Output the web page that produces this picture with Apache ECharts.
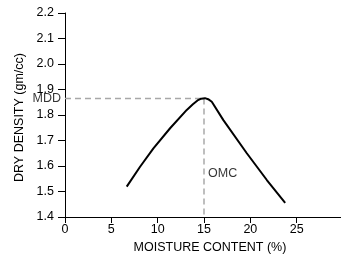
<!DOCTYPE html>
<html><head><meta charset="utf-8">
<script src="https://cdn.jsdelivr.net/npm/echarts@6/dist/echarts.min.js"></script>
<style>html,body{margin:0;padding:0;background:#fff}#c{width:341px;height:257px}</style>
</head><body><div id="c"></div>
<script>
var moisture = [6.66, 8.1, 9.54, 11.34, 13.14, 13.8, 14.3, 14.7, 15.1, 15.45, 15.84, 17.09, 19.62, 21.78, 23.76];
var density  = [1.519, 1.597, 1.669, 1.748, 1.82, 1.842, 1.857, 1.864, 1.866, 1.862, 1.852, 1.78, 1.65, 1.545, 1.455];
var mdd = 1.865;
var omc = 15;
var xTicks = [0, 5, 10, 15, 20, 25, 30];
var yTicks = [1.4, 1.5, 1.6, 1.7, 1.8, 1.9, 2.0, 2.1, 2.2];

var curve = moisture.map(function (m, i) { return [m, density[i]]; });
var chart = echarts.init(document.getElementById('c'), null, {renderer: 'canvas'});
var font = 'Liberation Sans, Arial, sans-serif';
var fs = 12.5;
var dashStyle = {color: '#a8a8a8', width: 1.5, type: [6, 4]};
chart.setOption({
  animation: false,
  grid: {left: 65, top: 13, right: -2, bottom: 40, outerBoundsMode: 'none', containLabel: false},
  xAxis: {
    type: 'value', min: xTicks[0], max: xTicks[xTicks.length - 1], interval: 5,
    name: 'MOISTURE CONTENT (%)', nameLocation: 'middle', nameGap: 20,
    nameTextStyle: {fontFamily: font, fontSize: fs, color: '#000', padding: [0, 0, 0, 12]},
    axisLine: {show: true, lineStyle: {color: '#000', width: 1}},
    axisTick: {show: true, length: 6, lineStyle: {color: '#000'}},
    axisLabel: {fontFamily: font, fontSize: fs, color: '#000', margin: 6,
      formatter: function (v) { return v === 30 ? '' : String(v); }},
    splitLine: {show: false}
  },
  yAxis: {
    type: 'value', min: yTicks[0], max: yTicks[yTicks.length - 1], interval: 0.1,
    name: 'DRY DENSITY (gm/cc)', nameLocation: 'middle', nameGap: 28, nameRotate: 90,
    nameTextStyle: {fontFamily: font, fontSize: fs, color: '#000', padding: [0, 5, 0, 0]},
    axisLine: {show: true, lineStyle: {color: '#000', width: 1}},
    axisTick: {show: true, length: 7, lineStyle: {color: '#000'}},
    axisLabel: {fontFamily: font, fontSize: fs, color: '#000', margin: 11,
      formatter: function (v) { return v.toFixed(1); }},
    splitLine: {show: false}
  },
  series: [
    {type: 'line', data: [[xTicks[0], mdd], [omc, mdd]], symbol: 'none', lineStyle: dashStyle, silent: true, z: 1},
    {type: 'line', data: [[omc, mdd], [omc, yTicks[0]]], symbol: 'none', lineStyle: dashStyle, silent: true, z: 1},
    {type: 'line', data: curve, smooth: false, symbol: 'none', lineStyle: {color: '#000', width: 2, join: 'round'}, z: 3},
    {type: 'scatter', symbolSize: 0, silent: true, z: 4,
      data: [
        {value: [xTicks[0], mdd], label: {show: true, formatter: 'MDD', position: 'left', distance: 4, fontFamily: font, fontSize: fs, color: '#000'}},
        {value: [omc, 1.569], label: {show: true, formatter: 'OMC', position: 'right', distance: 4, fontFamily: font, fontSize: fs, color: '#000'}}
      ]}
  ]
});
</script></body></html>
